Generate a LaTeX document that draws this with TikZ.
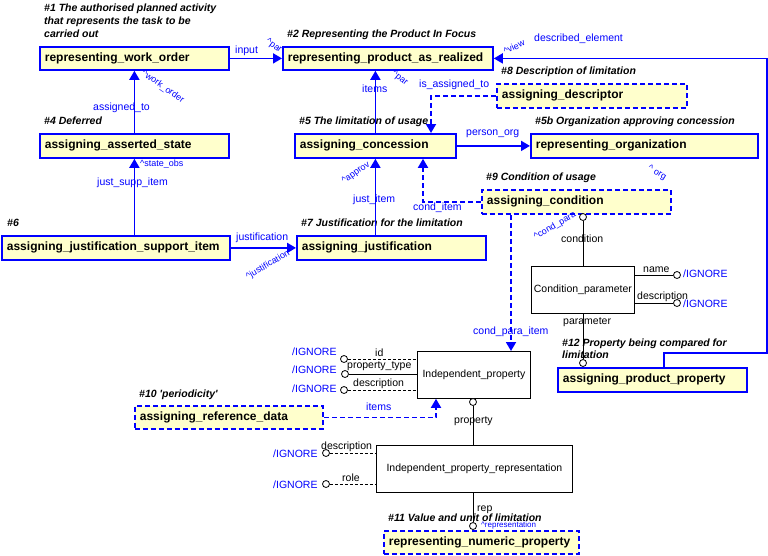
\documentclass[tikz,border=0pt]{standalone}
\usepackage{fontspec}
\setmainfont{Liberation Sans}
\usetikzlibrary{arrows.meta,calc}
\definecolor{entfill}{RGB}{255,255,204}
\definecolor{lblue}{RGB}{0,0,255}
\tikzset{
 ent/.style={draw=lblue, line width=1.8pt, fill=entfill, anchor=north west, inner xsep=5pt, inner ysep=0pt, align=left, font=\fontsize{12}{14}\bfseries\selectfont},
 dent/.style={ent, dash pattern=on 5pt off 3pt},
 hd/.style={anchor=base west, inner sep=0pt, font=\fontsize{10.5}{12}\bfseries\itshape\selectfont},
 bl/.style={anchor=base west, inner sep=0pt, text=lblue, font=\fontsize{10.5}{12}\selectfont},
 sm/.style={inner sep=0pt, text=lblue, font=\fontsize{9}{10}\selectfont},
 kl/.style={anchor=base west, inner sep=0pt, font=\fontsize{10.5}{12}\selectfont},
 obj/.style={draw, line width=0.8pt, fill=white, anchor=north west, inner sep=0pt, font=\fontsize{10.5}{12}\selectfont},
 rel/.style={draw=lblue, line width=1.8pt, -{Triangle[length=9pt,width=10pt]}},
 drel/.style={rel, dash pattern=on 5pt off 3pt},
 ln/.style={draw, line width=0.8pt},
 dln/.style={ln, dash pattern=on 3pt off 2pt},
 oc/.style={circle, draw, line width=0.8pt, fill=white, inner sep=0pt, minimum size=7pt},
}
\begin{document}
\begin{tikzpicture}[x=1pt,y=-1pt]
\useasboundingbox (0,0) rectangle (768,555);
% entities
\node[ent, minimum width=189pt, minimum height=23pt, text width=179pt] (wo) at (39,46) {representing\_work\_order};
\node[ent, minimum width=210pt, minimum height=23pt, text width=200pt] (pr) at (282,46) {representing\_product\_as\_realized};
\node[ent, minimum width=189pt, minimum height=24pt, text width=179pt] (as) at (39,133) {assigning\_asserted\_state};
\node[ent, minimum width=161pt, minimum height=24pt, text width=151pt] (co) at (294,133) {assigning\_concession};
\node[ent, minimum width=227pt, minimum height=24pt, text width=217pt] (org) at (530,133) {representing\_organization};
\node[dent, minimum width=190pt, minimum height=24pt, text width=180pt] (desc) at (496,83) {assigning\_descriptor};
\node[dent, minimum width=189pt, minimum height=24pt, text width=179pt] (cond) at (481,189) {assigning\_condition};
\node[ent, minimum width=228pt, minimum height=24pt, text width=218pt] (jsi) at (1,235) {assigning\_justification\_support\_item};
\node[ent, minimum width=189pt, minimum height=24pt, text width=179pt] (just) at (296,235) {assigning\_justification};
\node[ent, minimum width=189pt, minimum height=24pt, text width=179pt] (app) at (557,367) {assigning\_product\_property};
\node[dent, minimum width=188pt, minimum height=23pt, text width=178pt] (ard) at (134,405) {assigning\_reference\_data};
\node[dent, minimum width=195pt, minimum height=23pt, text width=185pt] (rnp) at (383,530) {representing\_numeric\_property};
% objects
\node[obj, minimum width=103pt, minimum height=47pt] (cp) at (531,266) {Condition\_parameter};
\node[obj, minimum width=113pt, minimum height=47pt] (ip) at (417,351) {Independent\_property};
\node[obj, minimum width=196pt, minimum height=47pt] (ipr) at (376,445) {Independent\_property\_representation};
% headings
\node[hd] (h1a) at (44,11) {\#1 The authorised planned activity};
\node[hd] (h1b) at (44,24) {that represents the task to be};
\node[hd] (h1c) at (44,37) {carried out};
\node[hd] (h2) at (287,37) {\#2 Representing the Product In Focus};
\node[hd] (h4) at (44,124) {\#4 Deferred};
\node[hd] (h5) at (299,124) {\#5 The limitation of usage};
\node[hd] (h5b) at (535,124) {\#5b Organization approving concession};
\node[hd] (h8) at (501,74) {\#8 Description of limitation};
\node[hd] (h9) at (486,180) {\#9 Condition of usage};
\node[hd] (h6) at (7,226) {\#6};
\node[hd] (h7) at (301,226) {\#7 Justification for the limitation};
\node[hd] (h10) at (139,397) {\#10 \textquotesingle periodicity\textquotesingle};
\node[hd] (h11) at (388,521) {\#11 Value and unit of limitation};
\node[hd] (h12a) at (562,346) {\#12 Property being compared for};
\node[hd] (h12b) at (562,358) {limitation};
% blue connectors
\draw[rel] (wo.east) -- (pr.west);
\draw[rel] (as.north) -- (wo.south);
\draw[rel] (co.north) -- (co.north |- pr.south);
\draw[drel] (desc.west) -| ($(co.north west)+(137,0)$);
\coordinate (de1) at (767,353);
\draw[rel] ($(app.north west)+(107,0)$) |- (de1) |- (pr.east);
\draw[rel] (co.east) -- (org.west);
\draw[drel] (cond.west) -| ($(co.south west)+(129,0)$);
\draw[rel] (co.south |- just.north) -- (co.south);
\draw[rel] (jsi.north -| as.south) -- (as.south);
\draw[rel] (jsi.east) -- (just.west);
\draw[drel] ($(cond.south west)+(30,0)$) -- ($(ip.north west)+(94,0)$);
\draw[drel] (ard.east) -| ($(ip.south west)+(19,0)$);
% black connectors
\node[oc] (c1) at (583,217) {};
\node[oc] (c2) at (677,275) {};
\node[oc] (c3) at (677,303) {};
\node[oc] (c4) at (583,363) {};
\node[oc] (c5) at (344,359) {};
\node[oc] (c6) at (345,374) {};
\node[oc] (c7) at (344,390) {};
\node[oc] (c8) at (473,402) {};
\node[oc] (c9) at (326,453) {};
\node[oc] (c10) at (326,484) {};
\node[oc] (c11) at (473,526) {};
\draw[ln] (c1.south) -- (c1.south |- cp.north);
\draw[ln] (cp.east |- c2) -- (c2.west);
\draw[ln] (cp.east |- c3) -- (c3.west);
\draw[ln] (c4.north |- cp.south) -- (c4.north);
\draw[dln] (c5.east) -- (ip.west |- c5);
\draw[ln] (c6.east) -- (ip.west |- c6);
\draw[dln] (c7.east) -- (ip.west |- c7);
\draw[ln] (c8.south) -- (c8.south |- ipr.north);
\draw[dln] (c9.east) -- (ipr.west |- c9);
\draw[dln] (c10.east) -- (ipr.west |- c10);
\draw[ln] (c11.north |- ipr.south) -- (c11.north);
% blue labels
\node[bl] (l1) at (235,53) {input};
\node[bl] (l2) at (93,110) {assigned\_to};
\node[bl] (l3) at (97,185) {just\_supp\_item};
\node[bl] (l4) at (236,240) {justification};
\node[bl] (l5) at (362,92) {items};
\node[bl] (l6) at (419,87) {is\_assigned\_to};
\node[bl] (l7) at (534,41) {described\_element};
\node[bl] (l8) at (466,135) {person\_org};
\node[bl] (l9) at (353,202) {just\_item};
\node[bl] (l10) at (413,210) {cond\_item};
\node[bl] (l11) at (473,334) {cond\_para\_item};
\node[bl] (l12) at (366,410) {items};
\node[bl] (g1) at (683,277) {/IGNORE};
\node[bl] (g2) at (683,307) {/IGNORE};
\node[bl] (g3) at (292,355) {/IGNORE};
\node[bl] (g4) at (292,373) {/IGNORE};
\node[bl] (g5) at (292,392) {/IGNORE};
\node[bl] (g6) at (273,457) {/IGNORE};
\node[bl] (g7) at (273,488) {/IGNORE};
% small role labels
\node[sm, anchor=base west] (r1) at (140,166) {\textasciicircum state\_obs};
\node[sm, anchor=base west, font=\fontsize{8}{9}\selectfont] (r2) at (481,527) {\textasciicircum representation};
\node[sm, rotate=-35] (r3) at (274,46) {\textasciicircum par};
\node[sm, rotate=-35] (r4) at (163,87) {\textasciicircum work\_order};
\node[sm, rotate=-38] (r5) at (400,78) {\textasciicircum par};
\node[sm, rotate=25] (r6) at (514,47) {\textasciicircum view};
\node[sm, rotate=-30] (r7) at (657,173) {\textasciicircum\ org};
\node[sm, rotate=35] (r8) at (356,173) {\textasciicircum approv};
\node[sm, rotate=30] (r9) at (268,265) {\textasciicircum justification};
\node[sm, rotate=30] (r10) at (555,226) {\textasciicircum cond\_para};
% black labels
\node[kl] (k1) at (561,242) {condition};
\node[kl] (k2) at (643,272) {name};
\node[kl] (k3) at (637,299) {description};
\node[kl] (k4) at (563,324) {parameter};
\node[kl] (k5) at (375,356) {id};
\node[kl] (k6) at (347,368) {property\_type};
\node[kl] (k7) at (353,386) {description};
\node[kl] (k8) at (454,423) {property};
\node[kl] (k9) at (321,449) {description};
\node[kl] (k10) at (342,481) {role};
\node[kl] (k11) at (477,511) {rep};
\end{tikzpicture}
\end{document}
